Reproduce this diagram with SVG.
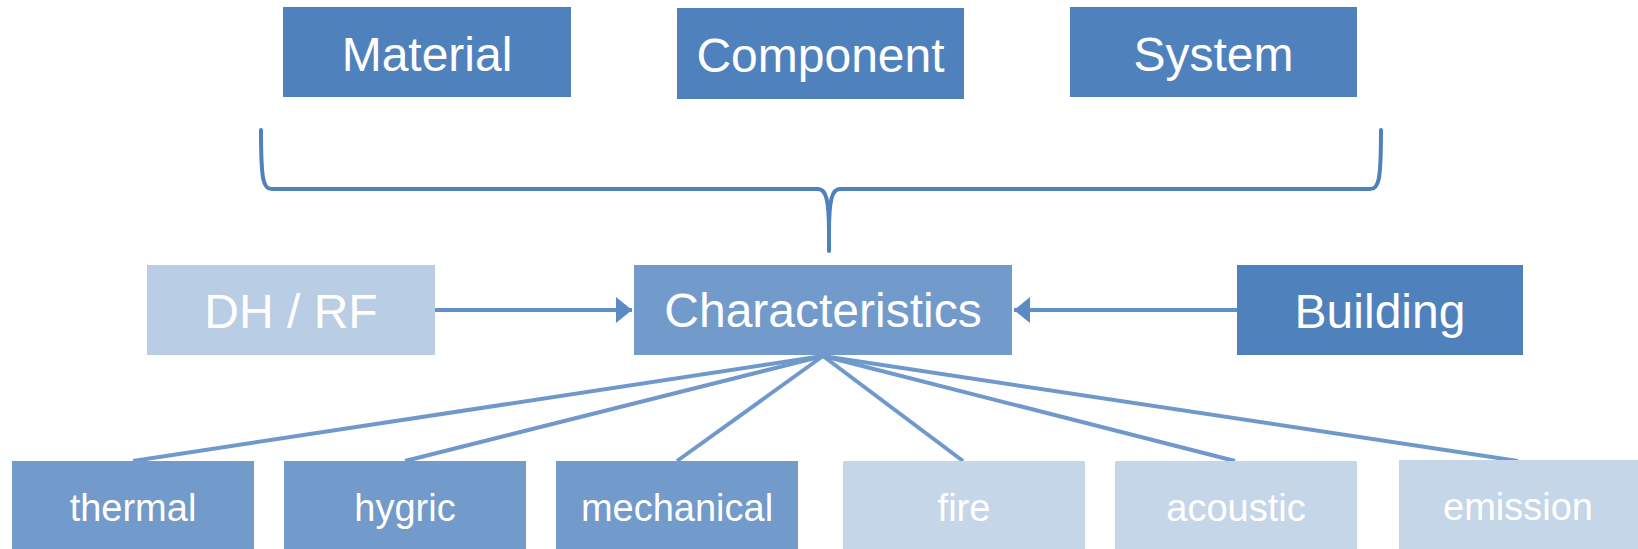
<svg xmlns="http://www.w3.org/2000/svg" width="1638" height="549" viewBox="0 0 1638 549">
  <style>
    .dark { fill: #4f81bd; }
    .mid { fill: #729aca; }
    .pale { fill: #b9cde5; }
    .faint { fill: #c6d6e9; }
    .lbl { font-family: "Liberation Sans", Arial, sans-serif; fill: #ffffff; text-anchor: middle; }
    .big { font-size: 48px; }
    .small { font-size: 38px; }
    .brace { fill: none; stroke: #4f81bd; stroke-width: 4; stroke-linecap: round; stroke-linejoin: round; }
    .flow { fill: none; stroke: #628fc8; stroke-width: 4; }
    .fan { fill: none; stroke: #6f99cb; stroke-width: 4; }
  </style>
  <defs>
    <marker id="head" markerUnits="userSpaceOnUse" markerWidth="17" markerHeight="26" refX="16" refY="13" orient="auto">
      <path d="M0,0 L16,13 L0,26 Z" fill="#5b8ac5"/>
    </marker>
  </defs>

  <rect width="1638" height="549" fill="#ffffff"/>

  <!-- connectors -->
  <g id="connectors">
    <path class="brace" d="M261,130 C261,180 263,189 272,189 L818,189 C826,189 829,200 829,232 L829,251 M829,232 C829,200 832,189 840,189 L1370,189 C1379,189 1381,180 1381,130"/>
    <line class="flow" x1="435" y1="310" x2="632" y2="310" marker-end="url(#head)"/>
    <line class="flow" x1="1237" y1="310" x2="1014" y2="310" marker-end="url(#head)"/>
    <g class="fan">
      <line x1="823" y1="356" x2="133" y2="461"/>
      <line x1="823" y1="356" x2="405" y2="461"/>
      <line x1="823" y1="356" x2="677" y2="461"/>
      <line x1="823" y1="356" x2="963" y2="461"/>
      <line x1="823" y1="356" x2="1235" y2="461"/>
      <line x1="823" y1="356" x2="1518" y2="461"/>
    </g>
  </g>

  <!-- top row -->
  <g id="material">
    <rect class="dark" x="283" y="7" width="288" height="90"/>
    <text class="lbl big" x="427" y="70.5">Material</text>
  </g>
  <g id="component">
    <rect class="dark" x="677" y="8" width="287" height="91"/>
    <text class="lbl big" x="820.5" y="71.5">Component</text>
  </g>
  <g id="system">
    <rect class="dark" x="1070" y="7" width="287" height="90"/>
    <text class="lbl big" x="1213.5" y="70.5">System</text>
  </g>

  <!-- middle row -->
  <g id="dh-rf">
    <rect class="pale" x="147" y="265" width="288" height="90"/>
    <text class="lbl big" x="291" y="327.5">DH / RF</text>
  </g>
  <g id="characteristics">
    <rect class="mid" x="634" y="265" width="378" height="90"/>
    <text class="lbl big" x="823" y="326.5">Characteristics</text>
  </g>
  <g id="building">
    <rect class="dark" x="1237" y="265" width="286" height="90"/>
    <text class="lbl big" x="1380" y="327.5">Building</text>
  </g>

  <!-- bottom row -->
  <g id="thermal">
    <rect class="mid" x="12" y="461" width="242" height="88"/>
    <text class="lbl small" x="133" y="521">thermal</text>
  </g>
  <g id="hygric">
    <rect class="mid" x="284" y="461" width="242" height="88"/>
    <text class="lbl small" x="405" y="521">hygric</text>
  </g>
  <g id="mechanical">
    <rect class="mid" x="556" y="461" width="242" height="88"/>
    <text class="lbl small" x="677" y="521">mechanical</text>
  </g>
  <g id="fire">
    <rect class="faint" x="843" y="461" width="242" height="88"/>
    <text class="lbl small" x="964" y="521">fire</text>
  </g>
  <g id="acoustic">
    <rect class="faint" x="1115" y="461" width="242" height="88"/>
    <text class="lbl small" x="1236" y="521">acoustic</text>
  </g>
  <g id="emission">
    <rect class="faint" x="1399" y="460" width="239" height="89"/>
    <text class="lbl small" x="1518" y="520">emission</text>
  </g>
</svg>
